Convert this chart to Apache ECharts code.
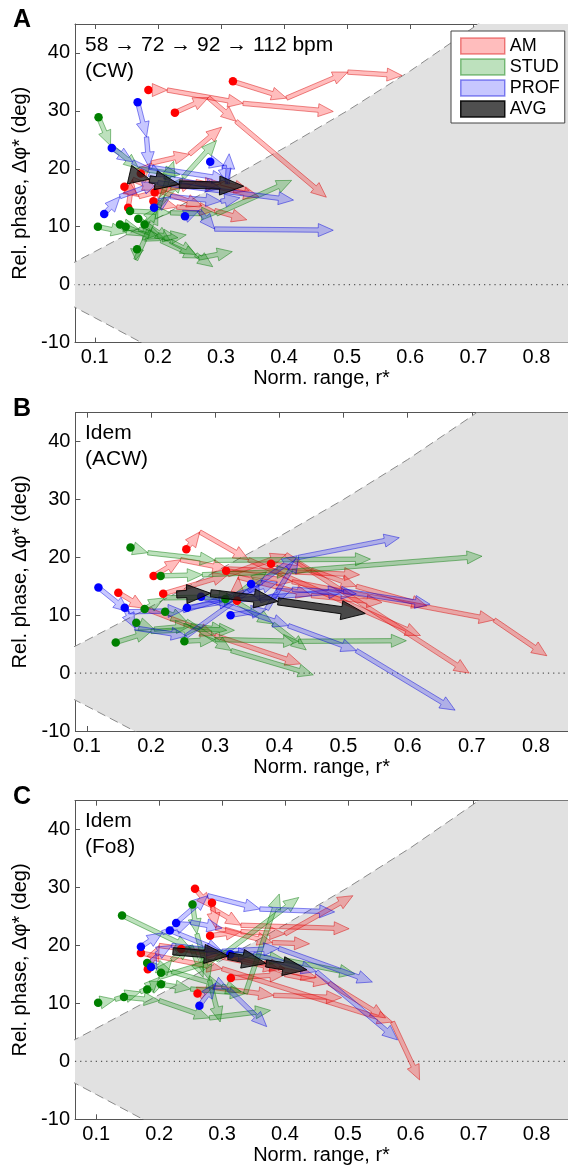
<!DOCTYPE html>
<html>
<head>
<meta charset="utf-8">
<script src="https://cdn.jsdelivr.net/npm/echarts@6/dist/echarts.min.js"></script>
<style>html,body{margin:0;padding:0;background:#fff}#c{width:568px;height:1169px}</style>
</head>
<body>
<div id="c"></div>
<script>
// ---------- tick labels ----------
const X_TICKS = [0.1, 0.2, 0.3, 0.4, 0.5, 0.6, 0.7, 0.8];
const Y_TICKS = [-10, 0, 10, 20, 30, 40];
// ---------- boundary of shaded region ----------
const BOUND_R = [0, 0.1, 0.2, 0.3, 0.4, 0.5, 0.6, 0.7, 0.75, 0.8];
const BOUND_PHASE = [0, 5.7, 11.5, 17.5, 23.6, 30.0, 36.9, 44.4, 48.6, 53.1];
const GROUPS = ['AM', 'STUD', 'PROF', 'AVG'];

// ---------- Panel A (CW): trajectories [r*, dphi*] at 58,72,92,112 bpm ----------
const A_AM = [
  [[0.319,35.1],[0.404,32.2],[0.501,36.7],[0.587,36.1]],
  [[0.185,33.6],[0.215,33.6],[0.335,31.3],[0.478,29.9]],
  [[0.227,29.7],[0.280,32.3],[0.324,28.2],[0.467,15.1]],
  [[0.173,19.2],[0.190,21.0],[0.250,22.5],[0.301,27.2]],
  [[0.147,16.9],[0.170,15.2],[0.260,17.8],[0.360,15.2]],
  [[0.195,15.9],[0.220,16.8],[0.300,17.6],[0.345,16.2]],
  [[0.193,14.4],[0.230,13.4],[0.290,12.8],[0.341,11.2]],
  [[0.153,13.3],[0.160,18.2],[0.200,16.3],[0.270,13.6]]
];
const A_STUD = [
  [[0.106,28.9],[0.125,24.0],[0.170,20.0],[0.235,19.0]],
  [[0.105,10.0],[0.150,9.0],[0.200,8.6],[0.232,8.1]],
  [[0.140,10.4],[0.170,9.6],[0.210,8.0],[0.245,8.6]],
  [[0.149,10.0],[0.205,7.6],[0.265,4.6],[0.318,5.7]],
  [[0.156,12.7],[0.220,12.4],[0.293,12.2],[0.412,18.0]],
  [[0.169,11.4],[0.220,7.5],[0.260,5.2],[0.287,3.1]],
  [[0.179,10.4],[0.200,13.4],[0.240,18.5],[0.293,24.9]],
  [[0.167,6.1],[0.165,4.3],[0.200,13.0],[0.225,21.3]]
];
const A_PROF = [
  [[0.168,31.5],[0.182,25.5],[0.186,20.3],[0.310,18.2]],
  [[0.127,23.6],[0.160,21.2],[0.210,18.6],[0.300,16.6]],
  [[0.115,12.2],[0.140,15.2],[0.200,17.6],[0.415,14.6]],
  [[0.283,21.2],[0.305,20.6],[0.310,17.4],[0.313,22.6]],
  [[0.194,13.3],[0.220,15.2],[0.300,14.4],[0.330,15.0]],
  [[0.243,11.8],[0.265,12.8],[0.290,9.6],[0.478,9.4]]
];
const A_AVG = [
  [[0.155,19.0],[0.187,18.2],[0.234,17.3],[0.336,17.0]]
];

// ---------- Panel B (ACW) ----------
const B_AM = [
  [[0.255,21.4],[0.276,24.4],[0.352,19.6],[0.620,6.5]],
  [[0.204,16.8],[0.246,19.6],[0.320,18.0],[0.525,17.0]],
  [[0.149,13.9],[0.190,11.2],[0.300,6.5],[0.433,1.6]],
  [[0.219,13.7],[0.320,17.0],[0.410,20.5],[0.696,0.0]],
  [[0.317,17.7],[0.420,15.8],[0.735,9.2],[0.817,3.0]],
  [[0.387,18.9],[0.450,17.8],[0.520,15.0],[0.630,11.6]],
  [[0.334,12.5],[0.336,16.6],[0.450,13.4],[0.560,12.2]]
];
const B_STUD = [
  [[0.168,21.7],[0.195,20.8],[0.300,19.5],[0.542,19.7]],
  [[0.215,16.8],[0.280,17.0],[0.420,17.6],[0.716,20.2]],
  [[0.190,11.1],[0.220,13.0],[0.330,13.2],[0.380,17.5]],
  [[0.177,8.7],[0.205,7.6],[0.262,8.2],[0.318,7.4]],
  [[0.145,5.3],[0.200,7.2],[0.275,7.6],[0.330,7.4]],
  [[0.222,10.6],[0.255,9.0],[0.325,3.9],[0.453,-0.3]],
  [[0.252,5.5],[0.300,5.8],[0.430,5.5],[0.598,5.6]],
  [[0.316,12.8],[0.330,12.5],[0.390,8.5],[0.442,4.0]]
];
const B_PROF = [
  [[0.118,14.8],[0.165,10.6],[0.250,10.8],[0.397,15.7]],
  [[0.159,11.3],[0.175,7.8],[0.255,6.4],[0.428,20.3]],
  [[0.256,11.3],[0.330,12.6],[0.500,14.2],[0.635,11.9]],
  [[0.278,13.2],[0.414,8.2],[0.520,3.9],[0.674,-6.4]],
  [[0.324,10.0],[0.380,11.0],[0.430,20.0],[0.587,23.4]],
  [[0.356,15.4],[0.370,12.5],[0.420,14.5],[0.520,13.7]]
];
const B_AVG = [
  [[0.240,13.6],[0.293,13.8],[0.398,12.4],[0.534,10.3]]
];

// ---------- Panel C (Fo8) ----------
const C_AM = [
  [[0.257,29.8],[0.283,26.5],[0.330,23.5],[0.502,22.9]],
  [[0.284,27.4],[0.290,23.0],[0.380,20.5],[0.439,20.3]],
  [[0.281,21.7],[0.330,22.4],[0.400,22.0],[0.508,28.6]],
  [[0.171,18.7],[0.300,16.0],[0.571,6.8],[0.614,-3.2]],
  [[0.182,15.9],[0.200,20.0],[0.300,18.5],[0.400,16.0]],
  [[0.235,19.4],[0.300,18.0],[0.390,16.0],[0.450,14.5]],
  [[0.261,11.7],[0.285,12.8],[0.382,11.4],[0.490,11.0]],
  [[0.314,14.4],[0.400,15.0],[0.470,13.5],[0.560,7.5]]
];
const C_STUD = [
  [[0.103,10.1],[0.130,10.7],[0.170,12.0],[0.210,13.8]],
  [[0.144,11.1],[0.200,10.5],[0.280,7.5],[0.377,8.8]],
  [[0.181,12.4],[0.200,14.5],[0.290,17.5],[0.422,28.3]],
  [[0.203,13.3],[0.250,12.5],[0.337,11.7],[0.391,28.9]],
  [[0.141,25.2],[0.250,19.5],[0.400,17.5],[0.511,15.1]],
  [[0.253,27.1],[0.260,22.0],[0.280,14.0],[0.297,6.8]],
  [[0.181,17.0],[0.220,15.5],[0.300,13.0],[0.330,12.0]],
  [[0.203,15.3],[0.220,17.5],[0.250,20.0],[0.270,14.5]]
];
const C_PROF = [
  [[0.171,19.8],[0.205,22.2],[0.250,24.0],[0.300,23.0]],
  [[0.187,16.3],[0.195,18.5],[0.220,20.0],[0.300,19.0]],
  [[0.217,22.6],[0.300,19.0],[0.390,19.5],[0.539,13.7]],
  [[0.227,23.9],[0.277,28.6],[0.360,26.3],[0.479,25.8]],
  [[0.264,9.6],[0.290,13.5],[0.310,12.5],[0.371,6.0]],
  [[0.313,18.5],[0.350,18.5],[0.450,15.5],[0.579,3.7]]
];
const C_AVG = [
  [[0.222,19.0],[0.310,18.2],[0.370,16.9],[0.435,15.8]]
];

// ---------- styling ----------
const FONT = 'Arial, "Liberation Sans", Helvetica, sans-serif';
const STYLE = {
  AM:   {fill:'rgba(255,0,0,0.26)',  stroke:'rgba(215,0,0,0.45)',  dot:'#ff0000', sw:2.2, hl:15, hw:6.5},
  STUD: {fill:'rgba(0,140,0,0.26)',  stroke:'rgba(0,120,0,0.45)',  dot:'#008000', sw:2.2, hl:15, hw:6.5},
  PROF: {fill:'rgba(0,0,255,0.22)',  stroke:'rgba(0,0,220,0.45)',  dot:'#0000ff', sw:2.2, hl:15, hw:6.5},
  AVG:  {fill:'rgba(30,30,30,0.78)', stroke:'rgba(0,0,0,0.9)',     dot:'#000',    sw:3.6, hl:24, hw:9.5}
};

const PANELS = [
  {letter:'A', left:75, top:24, height:318.6, xmin:0.0687, pxPerUnit:635.7, note:['58 \u2192 72 \u2192 92 \u2192 112 bpm','(CW)'],
   data:{AM:A_AM, STUD:A_STUD, PROF:A_PROF, AVG:A_AVG}},
  {letter:'B', left:75.4, top:412.7, height:318.3, xmin:0.0821, pxPerUnit:647.0, note:['Idem','(ACW)'],
   data:{AM:B_AM, STUD:B_STUD, PROF:B_PROF, AVG:B_AVG}},
  {letter:'C', left:75, top:800.7, height:318.6, xmin:0.0662, pxPerUnit:633.6, note:['Idem','(Fo8)'],
   data:{AM:C_AM, STUD:C_STUD, PROF:C_PROF, AVG:C_AVG}}
];
const XMAX = 0.85, YMIN = -10, YMAX = 45;

function segments(trajs) {
  const out = [];
  trajs.forEach(t => { for (let i = 0; i < t.length - 1; i++) out.push([t[i][0], t[i][1], t[i+1][0], t[i+1][1]]); });
  return out;
}

function arrowRender(st) {
  return function (params, api) {
    const p0 = api.coord([api.value(0), api.value(1)]);
    const p1 = api.coord([api.value(2), api.value(3)]);
    const dx = p1[0] - p0[0], dy = p1[1] - p0[1];
    const L = Math.hypot(dx, dy);
    if (L < 0.5) return null;
    const ux = dx / L, uy = dy / L, nx = -uy, ny = ux;
    const hl = Math.min(st.hl, L);
    const bx = p1[0] - ux * hl, by = p1[1] - uy * hl;
    const sw = st.sw, hw = st.hw;
    const pts = [
      [p0[0] + nx * sw, p0[1] + ny * sw],
      [bx + nx * sw, by + ny * sw],
      [bx + nx * hw, by + ny * hw],
      [p1[0], p1[1]],
      [bx - nx * hw, by - ny * hw],
      [bx - nx * sw, by - ny * sw],
      [p0[0] - nx * sw, p0[1] - ny * sw]
    ];
    return {type:'polygon', shape:{points:pts}, style:{fill:st.fill, stroke:st.stroke, lineWidth:1, lineJoin:'miter'}};
  };
}

function regionRender(params, api) {
  const pts = [];
  for (let i = 0; i < BOUND_R.length; i++) pts.push(api.coord([BOUND_R[i], BOUND_PHASE[i]]));
  pts.push(api.coord([2, 100]));
  pts.push(api.coord([2, -100]));
  for (let i = BOUND_R.length - 1; i >= 0; i--) pts.push(api.coord([BOUND_R[i], -BOUND_PHASE[i]]));
  return {type:'polygon', shape:{points:pts}, style:{fill:'#e1e1e1'}};
}

const grid = [], xAxis = [], yAxis = [], series = [], graphic = [];
PANELS.forEach((p, gi) => {
  const width = (XMAX - p.xmin) * p.pxPerUnit;
  grid.push({left:p.left, top:p.top, width:width, height:p.height, show:false});
  const axisCommon = {
    type:'value', gridIndex:gi, min:p.xmin, max:XMAX,
    splitLine:{show:false},
    axisLine:{show:true, onZero:false, lineStyle:{color:'#555', width:1}}
  };
  xAxis.push(Object.assign({}, axisCommon, {
    position:'bottom',
    axisTick:{show:true, inside:true, length:5, customValues:X_TICKS, lineStyle:{color:'#555'}},
    axisLabel:{show:true, customValues:X_TICKS, margin:5, fontSize:20, color:'#000', fontFamily:FONT,
      formatter: v => (Math.round(v * 10) / 10).toFixed(1)},
    name:'Norm. range, r*', nameLocation:'middle', nameGap:26,
    nameTextStyle:{fontSize:20, color:'#000', fontFamily:FONT}
  }));
  xAxis.push(Object.assign({}, axisCommon, {
    position:'top',
    axisTick:{show:true, inside:true, length:5, customValues:X_TICKS, lineStyle:{color:'#555'}},
    axisLabel:{show:false}
  }));
  yAxis.push({
    type:'value', gridIndex:gi, min:YMIN, max:YMAX, position:'left',
    splitLine:{show:false},
    axisLine:{show:true, onZero:false, lineStyle:{color:'#555', width:1}},
    axisTick:{show:true, inside:true, length:5, customValues:Y_TICKS, lineStyle:{color:'#555'}},
    axisLabel:{show:true, customValues:Y_TICKS, margin:5, fontSize:20, color:'#000', fontFamily:FONT},
    name:'Rel. phase, \u0394\u03c6* (deg)', nameLocation:'middle', nameGap:43, nameRotate:90,
    nameTextStyle:{fontSize:20, color:'#000', fontFamily:FONT}
  });
  const xi = gi * 2, yi = gi;
  // shaded region
  series.push({type:'custom', name:'region' + gi, xAxisIndex:xi, yAxisIndex:yi, clip:true, silent:true, z:1,
    data:[[0, 0]], renderItem:regionRender});
  // dashed boundaries
  series.push({type:'line', name:'ub' + gi, xAxisIndex:xi, yAxisIndex:yi, z:2, silent:true, showSymbol:false, symbol:'none',
    data:BOUND_R.map((r, i) => [r, BOUND_PHASE[i]]), lineStyle:{color:'#8a8a8a', width:1, type:[9, 5]}});
  series.push({type:'line', name:'lb' + gi, xAxisIndex:xi, yAxisIndex:yi, z:2, silent:true, showSymbol:false, symbol:'none',
    data:BOUND_R.map((r, i) => [r, -BOUND_PHASE[i]]), lineStyle:{color:'#8a8a8a', width:1, type:[9, 5]}});
  // zero line
  series.push({type:'line', name:'zero' + gi, xAxisIndex:xi, yAxisIndex:yi, z:2, silent:true, showSymbol:false, symbol:'none',
    data:[[0, 0], [1, 0]], lineStyle:{color:'#555', width:1.2, type:[1.2, 4]}});
  // arrows for groups
  ['AM', 'STUD', 'PROF'].forEach((g, k) => {
    series.push({type:'custom', name:g, xAxisIndex:xi, yAxisIndex:yi, clip:true, z:3 + k * 0.01,
      itemStyle:{color:STYLE[g].fill},
      data:segments(p.data[g]), renderItem:arrowRender(STYLE[g])});
  });
  // start dots
  ['AM', 'STUD', 'PROF'].forEach(g => {
    series.push({type:'scatter', name:g, xAxisIndex:xi, yAxisIndex:yi, z:4, symbolSize:8.5,
      itemStyle:{color:STYLE[g].dot, opacity:1},
      data:p.data[g].map(t => t[0])});
  });
  // average
  series.push({type:'custom', name:'AVG', xAxisIndex:xi, yAxisIndex:yi, clip:true, z:5,
    itemStyle:{color:STYLE.AVG.fill},
    data:segments(p.data.AVG), renderItem:arrowRender(STYLE.AVG)});
  // texts
  graphic.push({type:'text', left:13, top:p.top - 16, z:20,
    style:{text:p.letter, font:'bold 25px ' + FONT, fill:'#000'}});
  graphic.push({type:'text', left:85, top:p.top + 8, z:20,
    style:{text:p.note[0] + '\n' + p.note[1], font:'21px ' + FONT, fill:'#000', lineHeight:26}});
});

const chart = echarts.init(document.getElementById('c'), null, {renderer:'canvas'});
chart.setOption({
  animation:false,
  textStyle:{fontFamily:FONT},
  grid:grid, xAxis:xAxis, yAxis:yAxis, series:series, graphic:graphic,
  legend:{
    show:true, orient:'vertical', left:451, top:31, z:30,
    padding:[6, 5, 5, 9], itemWidth:44, itemHeight:16, itemGap:3,
    backgroundColor:'#fff', borderColor:'#444', borderWidth:1, selectedMode:false,
    textStyle:{fontSize:18, color:'#000', fontFamily:FONT, lineHeight:16},
    data:GROUPS.map(g => ({name:g, icon:'rect',
      itemStyle:{color:STYLE[g].fill, borderColor:STYLE[g].stroke, borderWidth:1.5}}))
  }
});
</script>
</body>
</html>
